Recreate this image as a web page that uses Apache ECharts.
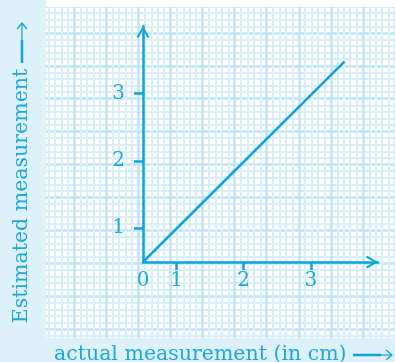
<!DOCTYPE html>
<html>
<head>
<meta charset="utf-8">
<script src="https://cdn.jsdelivr.net/npm/echarts@6/dist/echarts.min.js"></script>
<style>html,body{margin:0;padding:0;background:#fff}#c{width:395px;height:362px}</style>
</head>
<body>
<div id="c"></div>
<script>
// Data
const actual = [0.5, 3.5];
const estimated = [0.5, 3.47];
const xTickValues = [1, 2, 3];
const xLabelValues = [0.5, 1, 2, 3];
const yTickValues = [1, 2, 3];
const yLabelValues = [1, 2, 3];
const xTitle = 'actual measurement (in cm)';
const yTitle = 'Estimated measurement';

const INK = '#0ea3e0';
const TEXT = '#1ea8e0';
const PANEL = '#ddf1fa';
const FONT = '"DejaVu Serif", "Liberation Serif", serif';
const ARROW = 'path://M0,12 L7,0 L14,12 L12.0,13.0 L7,3.8 L2.0,13.0 Z';

const chart = echarts.init(document.getElementById('c'), null, {renderer: 'canvas'});
const lineData = actual.map((a, i) => [a, estimated[i]]);

chart.setOption({
  animation: false,
  backgroundColor: '#ffffff',
  grid: [
    {left: 143, top: 26, width: 235, height: 236},
    {left: 42.29, top: -7.71, width: 369.29, height: 370.86}
  ],
  xAxis: [
    {
      type: 'value', gridIndex: 0, min: 0.5, max: 4, z: 5,
      axisLine: {show: true, onZero: false, symbol: ['none', ARROW], symbolSize: [14, 12], symbolOffset: [0, -6],
        lineStyle: {color: INK, width: 2.5}},
      axisTick: {show: true, customValues: xTickValues, length: 8, lineStyle: {color: INK, width: 2.5}},
      axisLabel: {show: true, customValues: xLabelValues, margin: 9, color: TEXT, fontFamily: FONT, fontSize: 20,
        formatter: v => (v === 0.5 ? '0' : String(v))},
      splitLine: {show: false}
    },
    {
      type: 'value', gridIndex: 1, min: -1, max: 4.5, interval: 0.5, z: 0,
      axisLine: {show: false}, axisTick: {show: false}, axisLabel: {show: false},
      splitLine: {show: true, lineStyle: {color: '#bfe4f7', width: 2.5}},
      minorTick: {show: false, splitNumber: 5},
      minorSplitLine: {show: true, lineStyle: {color: '#d8effa', width: 2}}
    }
  ],
  yAxis: [
    {
      type: 'value', gridIndex: 0, min: 0.5, max: 4, z: 5,
      axisLine: {show: true, onZero: false, symbol: ['none', ARROW], symbolSize: [14, 12], symbolOffset: [0, -6],
        lineStyle: {color: INK, width: 2.5}},
      axisTick: {show: true, customValues: yTickValues, length: 9, lineStyle: {color: INK, width: 2.5}},
      axisLabel: {show: true, customValues: yLabelValues, margin: 18, color: TEXT, fontFamily: FONT, fontSize: 20},
      splitLine: {show: false}
    },
    {
      type: 'value', gridIndex: 1, min: -1, max: 4.5, interval: 0.5, z: 0,
      axisLine: {show: false}, axisTick: {show: false}, axisLabel: {show: false},
      splitLine: {show: true, lineStyle: {color: '#bfe4f7', width: 2.5}},
      minorTick: {show: false, splitNumber: 5},
      minorSplitLine: {show: true, lineStyle: {color: '#d8effa', width: 2}}
    }
  ],
  series: [{
    type: 'line', xAxisIndex: 0, yAxisIndex: 0, data: lineData, symbol: 'none', z: 6,
    lineStyle: {color: INK, width: 2.5}, silent: true
  }],
  graphic: [
    {type: 'rect', z: 50, shape: {x: 0, y: 0, width: 46, height: 362}, style: {fill: PANEL}},
    {type: 'rect', z: 50, shape: {x: 0, y: 338, width: 395, height: 24}, style: {fill: PANEL}},
    {type: 'rect', z: 50, shape: {x: 46, y: 0, width: 349, height: 7}, style: {fill: '#ffffff'}},
    {type: 'text', z: 60, x: 54, y: 355,
      style: {text: xTitle, font: '20.5px ' + FONT, fill: TEXT, align: 'left', verticalAlign: 'middle'}},
    {type: 'text', z: 60, x: 22, y: 196, rotation: Math.PI / 2,
      style: {text: yTitle, font: '20.5px ' + FONT, fill: TEXT, align: 'center', verticalAlign: 'middle'}},
    {type: 'polyline', z: 60, shape: {points: [[353, 355], [381, 355]]}, style: {stroke: INK, lineWidth: 2.5, fill: null}},
    {type: 'polyline', z: 60, shape: {points: [[380, 355], [392, 355]]}, style: {stroke: INK, lineWidth: 1.2, fill: null}},
    {type: 'polyline', z: 60, shape: {points: [[386, 350], [392, 355], [386, 360]]}, style: {stroke: INK, lineWidth: 1.2, fill: null}},
    {type: 'polyline', z: 60, shape: {points: [[22, 63], [22, 40]]}, style: {stroke: INK, lineWidth: 2.5, fill: null}},
    {type: 'polyline', z: 60, shape: {points: [[22, 41], [22, 23]]}, style: {stroke: INK, lineWidth: 1.2, fill: null}},
    {type: 'polyline', z: 60, shape: {points: [[17, 29], [22, 23], [27, 29]]}, style: {stroke: INK, lineWidth: 1.2, fill: null}}
  ]
});
</script>
</body>
</html>
